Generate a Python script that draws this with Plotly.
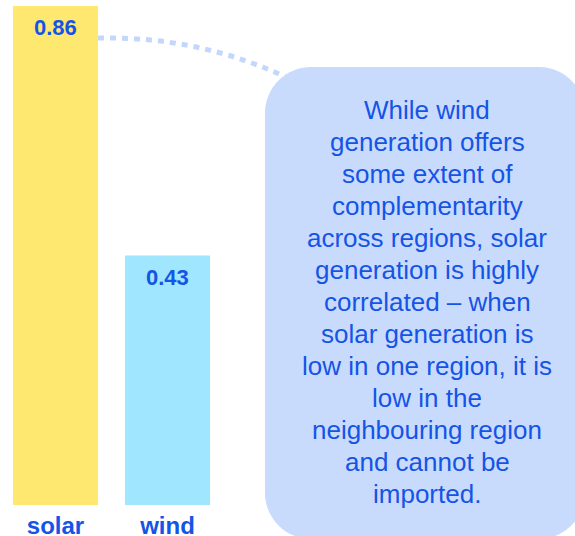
import plotly.graph_objects as go

categories = ["solar", "wind"]
values = [0.86, 0.43]
value_labels = ["0.86", "0.43"]
bar_colors = ["#FFE870", "#9FE6FE"]

note_lines = [
    "While wind",
    "generation offers",
    "some extent of",
    "complementarity",
    "across regions, solar",
    "generation is highly",
    "correlated – when",
    "solar generation is",
    "low in one region, it is",
    "low in the",
    "neighbouring region",
    "and cannot be",
    "imported.",
]

W, H = 575, 536
MB = 31
PH = H - MB
BLUE = "#1454E6"
BOX = "#C9DBFD"
FONT = "Liberation Sans, Arial, sans-serif"


def px(x):
    return x / W


def py(y):
    return (PH - y) / PH


fig = go.Figure()
fig.add_trace(go.Bar(
    x=categories, y=values, width=0.76,
    marker=dict(color=bar_colors, line=dict(width=0)),
    hoverinfo="skip",
))

for c, v, t in zip(categories, values, value_labels):
    fig.add_annotation(x=c, y=v, xref="x", yref="y", text=t, showarrow=False,
                       yshift=-22, yanchor="middle",
                       font=dict(family=FONT, size=22, color=BLUE, weight="bold"))

# dotted connector
x0, y0 = 98, 38
cx, cy = 200, 36
x1, y1 = 290, 79
fig.add_shape(type="path", xref="paper", yref="paper",
              path=f"M {px(x0)},{py(y0)} Q {px(cx)},{py(cy)} {px(x1)},{py(y1)}",
              line=dict(color="#C3D7FC", width=5, dash="6px,6px"), layer="above")

# rounded box
L, R, T, B, r = 265, 585, 67, 539, 46
k = 0.45
p = (f"M {px(L+r)},{py(T)} L {px(R-r)},{py(T)} "
     f"C {px(R-r*k)},{py(T)} {px(R)},{py(T+r*k)} {px(R)},{py(T+r)} "
     f"L {px(R)},{py(B-r)} "
     f"C {px(R)},{py(B-r*k)} {px(R-r*k)},{py(B)} {px(R-r)},{py(B)} "
     f"L {px(L+r)},{py(B)} "
     f"C {px(L+r*k)},{py(B)} {px(L)},{py(B-r*k)} {px(L)},{py(B-r)} "
     f"L {px(L)},{py(T+r)} "
     f"C {px(L)},{py(T+r*k)} {px(L+r*k)},{py(T)} {px(L+r)},{py(T)} Z")
fig.add_shape(type="path", xref="paper", yref="paper", path=p,
              fillcolor=BOX, line=dict(width=0), layer="above")

for i, line in enumerate(note_lines):
    fig.add_annotation(xref="paper", yref="paper", x=px(427), y=py(110 + 32 * i),
                       text=line, showarrow=False, xanchor="center", yanchor="middle",
                       font=dict(family=FONT, size=26, color=BLUE))

fig.update_layout(
    width=W, height=H,
    margin=dict(l=0, r=0, t=0, b=MB, pad=0, autoexpand=False),
    paper_bgcolor="white", plot_bgcolor="white",
    showlegend=False,
    xaxis=dict(range=[-0.4955, 4.638], showgrid=False, zeroline=False, showline=False,
               ticks="", ticklabelstandoff=4, automargin=False,
               tickfont=dict(family=FONT, size=24, color=BLUE, weight="bold"),
               fixedrange=True),
    yaxis=dict(range=[0, 0.8703], visible=False, fixedrange=True, automargin=False),
)

fig.write_html("out.html", config={"displayModeBar": False},
               post_script="document.body.style.margin='0px';document.body.style.overflow='hidden';")
